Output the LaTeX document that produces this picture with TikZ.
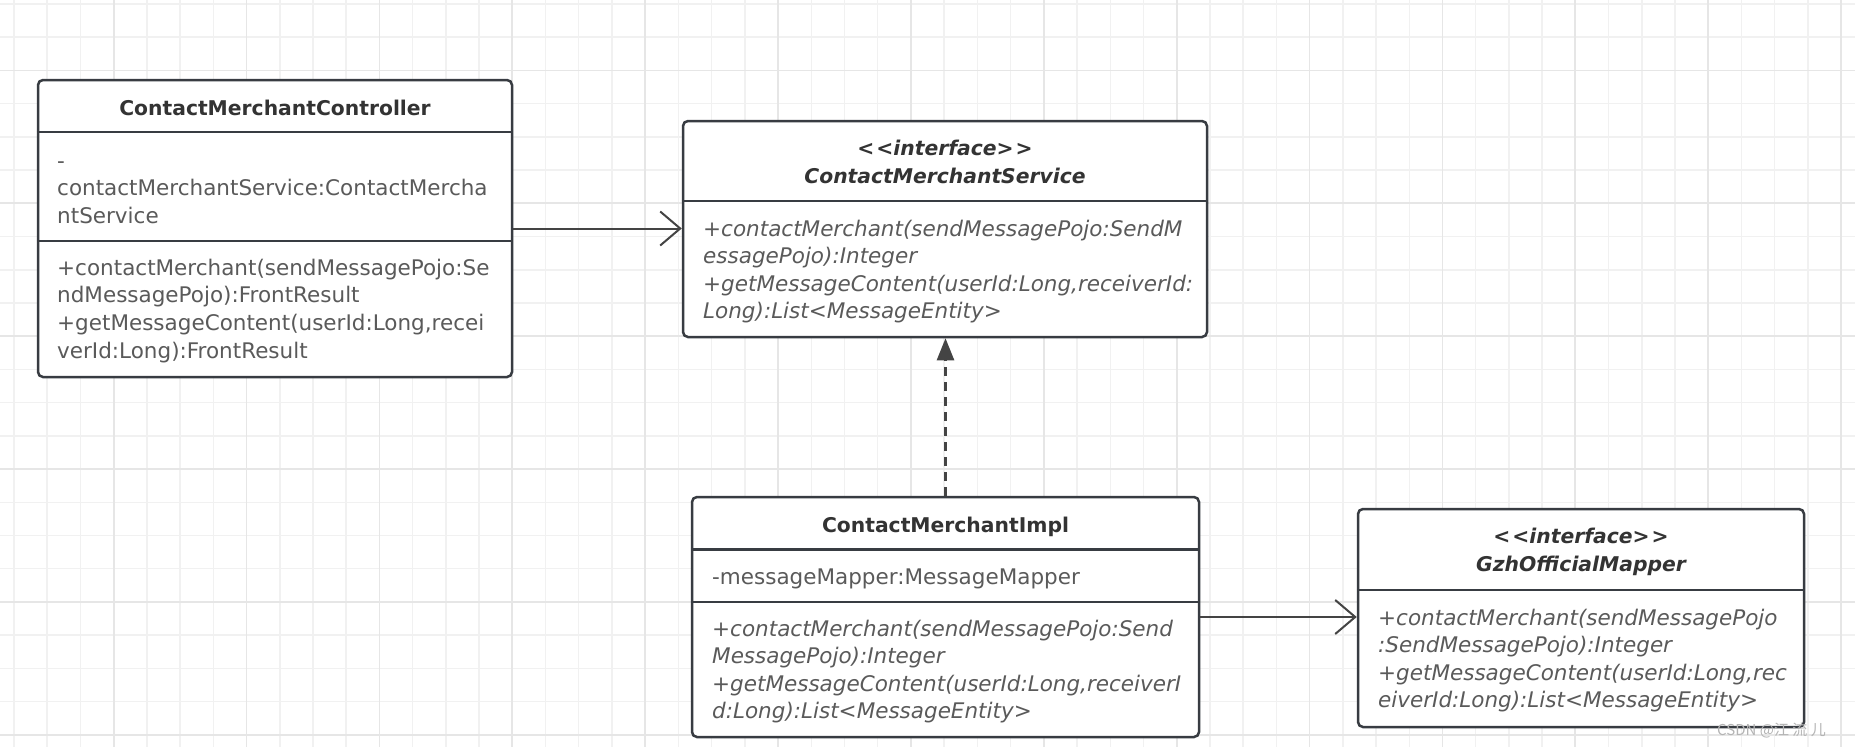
\documentclass[tikz,border=0pt]{standalone}
\usepackage{fontspec}
\setmainfont{DejaVu Sans}
\newfontfamily\cjkfont{Noto Sans CJK SC}
\usetikzlibrary{arrows.meta}
\definecolor{gridminor}{HTML}{F1F1F1}
\definecolor{gridmajor}{HTML}{E6E6E6}
\definecolor{border}{HTML}{383C42}
\definecolor{titlecol}{HTML}{333333}
\definecolor{bodycol}{HTML}{5A5A5A}
\definecolor{linkcol}{HTML}{444444}
\definecolor{wmcol}{HTML}{B4B4B4}
\tikzset{
  classbox/.style={draw=border, line width=2.5pt, rounded corners=5pt, fill=white, inner sep=0pt},
  divider/.style={draw=border, line width=2.5pt},
  titletext/.style={font=\bfseries\fontsize{20.3}{28}\selectfont, text=titlecol, text width=520pt, align=center, inner sep=0pt, anchor=base},
  ititletext/.style={titletext, font=\bfseries\itshape\fontsize{20.3}{28}\selectfont},
  bodytext/.style={font=\fontsize{21.5}{27.7}\selectfont, text=bodycol, text width=520pt, align=left, inner sep=0pt, anchor=base west},
  ibodytext/.style={bodytext, font=\itshape\fontsize{21.5}{27.5}\selectfont},
  assoc/.style={draw=linkcol, line width=2pt, -{Straight Barb[length=20pt,width=34pt,line width=2pt]}},
  realize/.style={draw=linkcol, line width=2.5pt, dash pattern=on 9pt off 6pt, -{Triangle[length=22pt,width=17pt]}},
  gridminorline/.style={draw=gridminor, line width=1.5pt},
  gridmajorline/.style={draw=gridmajor, line width=1.8pt}
}
\begin{document}
\begin{tikzpicture}[x=1pt, y=-1pt]
\useasboundingbox (0,0) rectangle (1855,747);
\fill[white] (0,0) rectangle (1855,747);
\begin{scope}
\clip (0,0) rectangle (1855,747);
\foreach \k in {0,...,55} {
  \pgfmathsetmacro\xx{14+\k*33.22}
  \draw[gridminorline] (\xx,0) -- (\xx,747);
}
\foreach \k in {0,...,22} {
  \pgfmathsetmacro\yy{4+\k*33.22}
  \draw[gridminorline] (0,\yy) -- (1855,\yy);
}
\foreach \k in {3,7,...,55} {
  \pgfmathsetmacro\xx{14+\k*33.22}
  \draw[gridmajorline] (\xx,0) -- (\xx,747);
}
\foreach \k in {2,6,...,22} {
  \pgfmathsetmacro\yy{4+\k*33.22}
  \draw[gridmajorline] (0,\yy) -- (1855,\yy);
}
\end{scope}

% class boxes
\node[classbox, minimum width=474pt, minimum height=297pt] (ctrl) at (275,228.5) {};
\node[classbox, minimum width=524pt, minimum height=216pt] (svc) at (945,229) {};
\node[classbox, minimum width=507pt, minimum height=240pt] (impl) at (945.5,617) {};
\node[classbox, minimum width=446pt, minimum height=218pt] (gzh) at (1581,618) {};

% dividers
\draw[divider] (ctrl.west |- 0,132) -- (ctrl.east |- 0,132);
\draw[divider] (ctrl.west |- 0,241) -- (ctrl.east |- 0,241);
\draw[divider] (svc.west |- 0,201) -- (svc.east |- 0,201);
\draw[divider] (impl.west |- 0,549.5) -- (impl.east |- 0,549.5);
\draw[divider] (impl.west |- 0,602) -- (impl.east |- 0,602);
\draw[divider] (gzh.west |- 0,590) -- (gzh.east |- 0,590);

% texts
\node[titletext] (ctrlT) at (275,115) {ContactMerchantController};
\node[bodytext] (ctrlF) at (57,168) {-\\contactMerchantService:ContactMercha\\ntService};
\node[bodytext] (ctrlM) at (57,275) {+contactMerchant(sendMessagePojo:Se\\ndMessagePojo):FrontResult\\+getMessageContent(userId:Long,recei\\verId:Long):FrontResult};

\node[ititletext] (svcT) at (945,155) {<\kern2pt<interface>\kern2pt>\\ContactMerchantService};
\node[ibodytext] (svcM) at (703,236) {+contactMerchant(sendMessagePojo:SendM\\essagePojo):Integer\\+getMessageContent(userId:Long,receiverId:\\Long):List<MessageEntity>};

\node[titletext] (implT) at (945.5,532) {ContactMerchantImpl};
\node[bodytext] (implF) at (712,584) {-messageMapper:MessageMapper};
\node[ibodytext] (implM) at (712,636) {+contactMerchant(sendMessagePojo:Send\\MessagePojo):Integer\\+getMessageContent(userId:Long,receiverI\\d:Long):List<MessageEntity>};

\node[ititletext] (gzhT) at (1581,543) {<\kern2pt<interface>\kern2pt>\\GzhOfficialMapper};
\node[ibodytext] (gzhM) at (1378,625) {+contactMerchant(sendMessagePojo\\:SendMessagePojo):Integer\\+getMessageContent(userId:Long,rec\\eiverId:Long):List<MessageEntity>};

% connectors
\draw[assoc] (ctrl.east) -- (ctrl.east -| svc.west);
\draw[realize] (impl.north) -- (impl.north |- svc.south);
\draw[assoc] (impl.east) -- (impl.east -| gzh.west);

% watermark
\node[anchor=base west, inner sep=0pt, font=\cjkfont\fontsize{15}{15}\selectfont, text=wmcol] (wm) at (1717,735) {CSDN @江 流 儿};
\end{tikzpicture}
\end{document}
